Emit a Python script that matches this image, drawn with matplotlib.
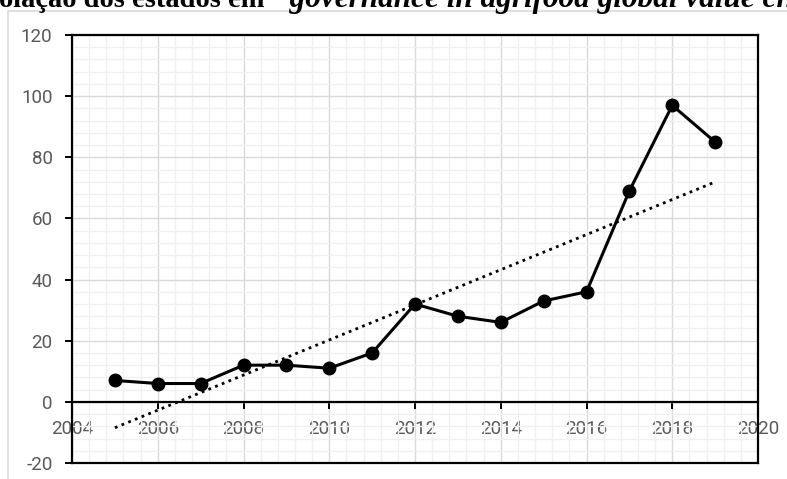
import matplotlib
matplotlib.use("Agg")
import matplotlib.pyplot as plt
import numpy as np
from matplotlib.ticker import MultipleLocator
from matplotlib.patches import Rectangle

plt.rcParams["axes.unicode_minus"] = False

years = [2005, 2006, 2007, 2008, 2009, 2010, 2011, 2012, 2013, 2014, 2015, 2016, 2017, 2018, 2019]
counts = [7, 6, 6, 12, 12, 11, 16, 32, 28, 26, 33, 36, 69, 97, 85]
x_ticks = [2004, 2006, 2008, 2010, 2012, 2014, 2016, 2018, 2020]
y_ticks = [-20, 0, 20, 40, 60, 80, 100, 120]
title_plain = "olação dos estados em"
title_italic = "\u201cgovernance in agrifood global value chains\u201d"

W, H = 787, 479
fig = plt.figure(figsize=(W / 100, H / 100), dpi=100)
fig.patch.set_facecolor("white")

# outer chart-area border
fig.patches.append(Rectangle((8 / W, -0.1), 1.2, 1 - 11 / H + 0.1, transform=fig.transFigure,
                             fill=False, edgecolor="#d9d9d9", linewidth=1.2, zorder=0))

ax = fig.add_axes([72 / W, 1 - 463 / H, (758 - 72) / W, (463 - 35) / H])
ax.set_xlim(2004, 2020)
ax.set_ylim(-20, 120)

ax.xaxis.set_minor_locator(MultipleLocator(0.4))
ax.yaxis.set_minor_locator(MultipleLocator(4))
ax.set_xticks(x_ticks)
ax.set_yticks(y_ticks)

ax.grid(which="major", color="#d9d9d9", linewidth=1.0, zorder=0)
ax.grid(which="minor", color="#f0f0f0", linewidth=1.0, zorder=0)
ax.set_axisbelow(True)

for s in ["left", "right", "top", "bottom"]:
    ax.spines[s].set_color("black")
    ax.spines[s].set_linewidth(1.6)
ax.spines["bottom"].set_position(("data", 0))
ax.axhline(-20, color="black", linewidth=1.6, clip_on=False, zorder=5)

font = "Roboto"
ax.tick_params(axis="x", which="major", direction="out", length=5, width=1.4, color="black",
               labelsize=13.5, labelcolor="#595959", pad=8)
ax.tick_params(axis="y", which="major", direction="out", length=5, width=1.4, color="black",
               labelsize=13.5, labelcolor="#595959", pad=9)
ax.tick_params(which="minor", length=0)
for lab in ax.get_xticklabels() + ax.get_yticklabels():
    lab.set_fontfamily(font)

ax.plot(years, counts, color="black", linewidth=2.2, marker="o", markersize=9,
        zorder=4, clip_on=False)

coef = np.polyfit(years, counts, 1)
trend = np.polyval(coef, years)
ax.plot(years, trend, color="black", linewidth=2.0, linestyle=(0, (1, 1.6)), zorder=3)

fig.text(-1 / W, 1 - 7 / H, title_plain, fontsize=20.5, fontweight="bold",
         fontfamily="Liberation Serif", ha="left", va="baseline")
fig.text(274 / W, 1 - 7 / H, title_italic, fontsize=22.5, fontweight="bold", fontstyle="italic",
         fontfamily="Liberation Serif", ha="left", va="baseline")

fig.savefig("out.png", dpi=100, facecolor="white")
